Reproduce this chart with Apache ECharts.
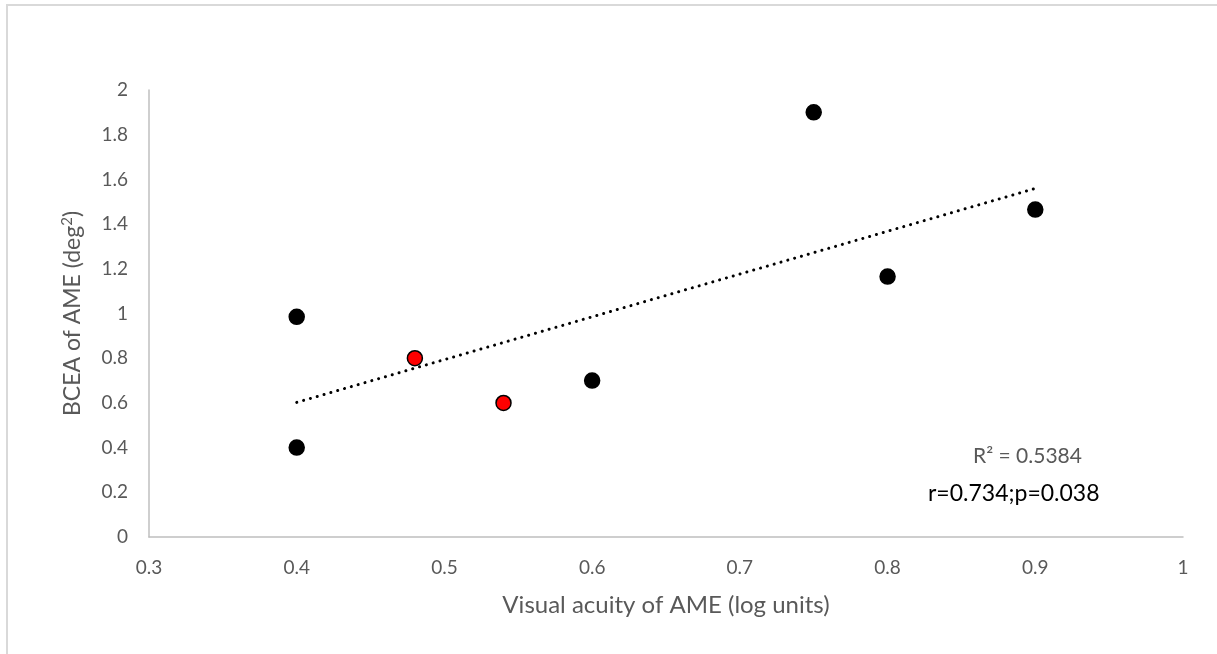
<!DOCTYPE html>
<html>
<head>
<meta charset="utf-8">
<script src="https://cdn.jsdelivr.net/npm/echarts@6/dist/echarts.min.js"></script>
<style>
  html, body { margin: 0; padding: 0; background: #fff; }
  #chart { width: 1217px; height: 654px; }
</style>
</head>
<body>
<div id="chart"></div>
<script>
// Visual acuity (log units) vs. BCEA (deg²) of the amblyopic eye
const acuityBlack = [0.40, 0.40, 0.60, 0.75, 0.80, 0.90];
const bceaBlack   = [0.985, 0.40, 0.70, 1.90, 1.165, 1.465];
const acuityRed   = [0.48, 0.54];
const bceaRed     = [0.80, 0.60];
const xTicks = [0.3, 0.4, 0.5, 0.6, 0.7, 0.8, 0.9, 1];
const yTicks = [0, 0.2, 0.4, 0.6, 0.8, 1, 1.2, 1.4, 1.6, 1.8, 2];
const r2Text = 'R² = 0.5384';
const statText = 'r=0.734;p=0.038';

// Least-squares trend line over all subjects
const allX = acuityBlack.concat(acuityRed);
const allY = bceaBlack.concat(bceaRed);
const n = allX.length;
const mx = allX.reduce((a, b) => a + b, 0) / n;
const my = allY.reduce((a, b) => a + b, 0) / n;
let sxy = 0, sxx = 0;
for (let i = 0; i < n; i++) {
  sxy += (allX[i] - mx) * (allY[i] - my);
  sxx += (allX[i] - mx) * (allX[i] - mx);
}
const slope = sxy / sxx;
const intercept = my - slope * mx;
const xMin = Math.min(...allX), xMax = Math.max(...allX);
const trend = [[xMin, intercept + slope * xMin], [xMax, intercept + slope * xMax]];

const FONT = 'Lato, "Open Sans", sans-serif';
const GREY = '#595959';
const chart = echarts.init(document.getElementById('chart'));
chart.setOption({
  backgroundColor: '#fff',
  animation: false,
  textStyle: { fontFamily: FONT },
  grid: { left: 149, right: 34, top: 90, bottom: 117 },
  xAxis: {
    type: 'value',
    min: xTicks[0], max: xTicks[xTicks.length - 1], interval: 0.1,
    name: 'Visual acuity of AME (log units)',
    nameLocation: 'middle', nameGap: 56,
    nameTextStyle: { color: GREY, fontSize: 24, fontFamily: FONT },
    axisLine: { show: true, lineStyle: { color: '#bfbfbf', width: 1.5 } },
    axisTick: { show: false },
    splitLine: { show: false },
    axisLabel: { color: GREY, fontSize: 19, margin: 21, fontFamily: FONT,
      formatter: v => String(Math.round(v * 10) / 10) }
  },
  yAxis: {
    type: 'value',
    min: yTicks[0], max: yTicks[yTicks.length - 1], interval: 0.2,
    name: '{t|BCEA of AME (deg}{s|2}{t|)}',
    nameLocation: 'middle', nameGap: 64, nameRotate: 90,
    nameTextStyle: {
      rich: {
        t: { color: GREY, fontSize: 23, fontFamily: FONT },
        s: { color: GREY, fontSize: 15, fontFamily: FONT, verticalAlign: 'top', padding: [0, 0, 10, 0] }
      }
    },
    axisLine: { show: true, lineStyle: { color: '#bfbfbf', width: 1.5 } },
    axisTick: { show: false },
    splitLine: { show: false },
    axisLabel: { color: GREY, fontSize: 19, margin: 21, fontFamily: FONT,
      formatter: v => String(Math.round(v * 10) / 10) }
  },
  series: [
    {
      type: 'line',
      data: trend,
      symbol: 'none',
      lineStyle: { color: '#000', width: 3, type: [0.1, 7], cap: 'round' },
      z: 2
    },
    {
      type: 'scatter',
      data: acuityBlack.map((x, i) => [x, bceaBlack[i]]),
      symbol: 'circle', symbolSize: 15,
      itemStyle: { color: '#000', borderColor: '#000', borderWidth: 1.5, opacity: 1 },
      z: 3
    },
    {
      type: 'scatter',
      data: acuityRed.map((x, i) => [x, bceaRed[i]]),
      symbol: 'circle', symbolSize: 15,
      itemStyle: { color: '#ff0000', borderColor: '#000', borderWidth: 1.5, opacity: 1 },
      z: 3
    }
  ],
  graphic: [
    {
      type: 'rect', silent: true, z: 0,
      shape: { x: 7, y: 5, width: 1240, height: 680 },
      style: { fill: 'none', stroke: '#d9d9d9', lineWidth: 2 }
    },
    {
      type: 'text', left: 973, top: 446,
      style: { text: r2Text, fill: GREY, fontSize: 21, fontFamily: FONT }
    },
    {
      type: 'text', left: 928, top: 482,
      style: { text: statText, fill: '#000', fontSize: 23, fontFamily: FONT }
    }
  ]
});
</script>
</body>
</html>
